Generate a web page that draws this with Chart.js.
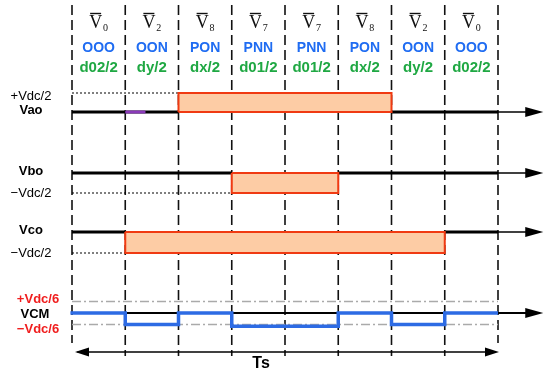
<!DOCTYPE html>
<html>
<head>
<meta charset="utf-8">
<script src="https://cdn.jsdelivr.net/npm/chart.js@4.4.1/dist/chart.umd.min.js"></script>
<style>
  html, body { margin: 0; padding: 0; background: #fff; }
  #wrap { width: 550px; height: 374px; }
</style>
</head>
<body>
<div id="wrap"><canvas id="pwmCanvas"></canvas></div>
<script>
// one switching period Ts, split in 8 sub-intervals
const vectorNo     = ['0', '2', '8', '7', '7', '8', '2', '0'];
const switchStates = ['OOO', 'OON', 'PON', 'PNN', 'PNN', 'PON', 'OON', 'OOO'];
const dwellTimes   = ['d02/2', 'dy/2', 'dx/2', 'd01/2', 'd01/2', 'dx/2', 'dy/2', 'd02/2'];

// phase voltages in units of Vdc/2, common mode in units of Vdc/6
const vaoLevel = [0, 0, 1, 1, 1, 1, 0, 0];
const vboLevel = [0, 0, 0, -1, -1, 0, 0, 0];
const vcoLevel = [0, -1, -1, -1, -1, -1, -1, 0];
const vcmLevel = [0, -1, 0, -1.15, -1.15, 0, -1, 0];
const vaoMark  = [1, 1.38];   // short purple stretch on Vao

const rowLabels = [
    { row: 'vao', main: 'Vao', ref: '+Vdc/2' },
    { row: 'vbo', main: 'Vbo', ref: '\u2212Vdc/2' },
    { row: 'vco', main: 'Vco', ref: '\u2212Vdc/2' }
];

// layout (pixels)
const X0 = 72, UNIT = 53.25;
const ROWS = {
    vao: { base: 112, amp: 19 },
    vbo: { base: 173, amp: 20 },
    vco: { base: 232, amp: 21 },
    vcm: { base: 313, amp: 11.5 }
};
const AXIS_END = 8.62, ARROW_TIP = 8.85, TS_Y = 352;
const SANS = '"Liberation Sans", Arial, sans-serif';
const SERIF = '"Liberation Serif", "Times New Roman", serif';

function yOf(row, level) { return ROWS[row].base - level * ROWS[row].amp; }

function line(points, opts) {
    return Object.assign({
        data: points, showLine: true, pointRadius: 0, fill: false,
        borderColor: '#000', borderWidth: 1.5, borderJoinStyle: 'miter',
        borderCapStyle: 'butt', order: 5
    }, opts);
}

// black baseline where level is 0, broken elsewhere
function zeroRuns(levels, row) {
    const pts = [];
    levels.forEach((l, i) => {
        if (l === 0) {
            pts.push({ x: i, y: yOf(row, 0) }, { x: i + 1, y: yOf(row, 0) });
        } else {
            pts.push({ x: i + 0.5, y: null });
        }
    });
    return pts;
}

// start/end/level of each non-zero run
function pulses(levels) {
    const out = [];
    let i = 0;
    while (i < levels.length) {
        if (levels[i] !== 0) {
            let j = i;
            while (j + 1 < levels.length && levels[j + 1] === levels[i]) j++;
            out.push({ from: i, to: j + 1, level: levels[i] });
            i = j + 1;
        } else i++;
    }
    return out;
}

function firstEdge(levels) { return levels.findIndex(l => l !== 0); }
function refLevel(levels) { return levels.find(l => l !== 0); }

const datasets = [];

// dashed sub-interval boundaries
for (let i = 0; i <= vectorNo.length; i++) {
    const inner = i > 0 && i < vectorNo.length;
    datasets.push(line([{ x: i, y: 5 }, { x: i, y: inner ? 356 : 343 }],
        { borderColor: '#111', borderWidth: 1.6, borderDash: [10, 5], order: 20 }));
}

// phase rows
[['vao', vaoLevel], ['vbo', vboLevel], ['vco', vcoLevel]].forEach(([row, lv]) => {
    const base = yOf(row, 0);
    datasets.push(line([{ x: 0, y: base }, { x: AXIS_END, y: base }], { borderWidth: 1.5, order: 15 }));
    const ref = yOf(row, refLevel(lv));
    datasets.push(line([{ x: 0, y: ref }, { x: firstEdge(lv), y: ref }],
        { borderWidth: 1, borderDash: [2, 2], order: 15 }));
    datasets.push(line(zeroRuns(lv, row), { borderWidth: 3, order: 10 }));
    pulses(lv).forEach(p => {
        const t = yOf(row, p.level);
        // filled body
        datasets.push(line([{ x: p.from, y: t }, { x: p.to, y: t }], {
            borderWidth: 0, borderColor: 'rgba(0,0,0,0)',
            backgroundColor: '#FDCCA5', fill: { value: base }, order: 9
        }));
        // red outline
        datasets.push(line([{ x: p.from, y: base }, { x: p.from, y: t }, { x: p.to, y: t },
                            { x: p.to, y: base }, { x: p.from, y: base }],
            { borderColor: '#F03A12', borderWidth: 2, order: 8 }));
    });
});

datasets.push(line(vaoMark.map(x => ({ x: x, y: yOf('vao', 0) })),
    { borderColor: '#8A3AB9', borderWidth: 3, order: 6 }));

// common mode row
datasets.push(line([{ x: 0, y: yOf('vcm', 1) }, { x: 8, y: yOf('vcm', 1) }],
    { borderColor: '#AAAAAA', borderWidth: 1.3, borderDash: [9, 3, 2, 3], order: 15 }));
datasets.push(line([{ x: 0, y: yOf('vcm', -1) }, { x: 8, y: yOf('vcm', -1) }],
    { borderColor: '#AAAAAA', borderWidth: 1.3, borderDash: [9, 3, 2, 3], order: 15 }));
datasets.push(line([{ x: 0, y: yOf('vcm', 0) }, { x: AXIS_END, y: yOf('vcm', 0) }],
    { borderWidth: 2, order: 12 }));
const vcmPts = [];
vcmLevel.forEach((l, i) => {
    vcmPts.push({ x: i, y: yOf('vcm', l) }, { x: i + 1, y: yOf('vcm', l) });
});
vcmPts[0].x = -0.03;
datasets.push(line(vcmPts, { borderColor: '#2D6BE4', borderWidth: 3.5, order: 4 }));

// Ts span
datasets.push(line([{ x: 0.1, y: TS_Y }, { x: 7.9, y: TS_Y }], { borderWidth: 1.5, order: 4 }));

function arrowHead(ctx, tipX, y, dir, len, half) {
    ctx.beginPath();
    ctx.moveTo(tipX, y);
    ctx.lineTo(tipX - dir * len, y - half);
    ctx.lineTo(tipX - dir * len, y + half);
    ctx.closePath();
    ctx.fillStyle = '#000';
    ctx.fill();
}

const annotations = {
    id: 'annotations',
    afterDatasetsDraw(chart) {
        const ctx = chart.ctx, xs = chart.scales.x;
        ctx.save();
        // arrows on time axes
        ['vao', 'vbo', 'vco', 'vcm'].forEach(r => {
            arrowHead(ctx, xs.getPixelForValue(ARROW_TIP), ROWS[r].base, 1, 18, 5);
        });
        arrowHead(ctx, xs.getPixelForValue(0) + 3, TS_Y, -1, 14, 4.5);
        arrowHead(ctx, xs.getPixelForValue(8) + 1, TS_Y, 1, 14, 4.5);

        // header rows
        ctx.textBaseline = 'alphabetic';
        ctx.textAlign = 'left';
        vectorNo.forEach((n, i) => {
            const cx = xs.getPixelForValue(i + 0.5);
            ctx.font = '18px ' + SERIF;
            const wV = ctx.measureText('V').width;
            ctx.font = '10px ' + SERIF;
            const wS = ctx.measureText(n).width;
            const sx = cx - (wV + wS + 1) / 2;
            ctx.fillStyle = '#111';
            ctx.font = '18px ' + SERIF;
            ctx.fillText('V', sx, 28);
            ctx.font = '10px ' + SERIF;
            ctx.fillText(n, sx + wV + 1, 31);
            ctx.strokeStyle = '#111';
            ctx.lineWidth = 1.4;
            ctx.beginPath();
            ctx.moveTo(sx + 1, 13.5);
            ctx.lineTo(sx + wV - 1, 13.5);
            ctx.stroke();
        });
        ctx.textAlign = 'center';
        ctx.textBaseline = 'middle';
        switchStates.forEach((s, i) => {
            ctx.font = 'bold 14px ' + SANS;
            ctx.fillStyle = '#1F6CF2';
            ctx.fillText(s, xs.getPixelForValue(i + 0.5), 48);
        });
        dwellTimes.forEach((s, i) => {
            ctx.font = 'bold 15px ' + SANS;
            ctx.fillStyle = '#1FA843';
            ctx.fillText(s, xs.getPixelForValue(i + 0.5), 68);
        });

        // row labels
        ctx.fillStyle = '#000';
        rowLabels.forEach(l => {
            const base = ROWS[l.row].base, amp = ROWS[l.row].amp;
            const up = l.ref.charAt(0) === '+';
            ctx.font = 'bold 13px ' + SANS;
            ctx.fillText(l.main, 31, base - 2);
            ctx.font = '13px ' + SANS;
            ctx.fillText(l.ref, 31, up ? base - amp + 3 : base + amp);
        });
        ctx.font = 'bold 13px ' + SANS;
        ctx.fillStyle = '#000';
        ctx.fillText('VCM', 35, ROWS.vcm.base + 1);
        ctx.fillStyle = '#F01E1E';
        ctx.fillText('+Vdc/6', 38, ROWS.vcm.base - 14);
        ctx.fillText('\u2212Vdc/6', 38, ROWS.vcm.base + 16);

        ctx.fillStyle = '#000';
        ctx.font = 'bold 16px ' + SANS;
        ctx.fillText('Ts', xs.getPixelForValue(3.55), 364);
        ctx.restore();
    }
};

new Chart(document.getElementById('pwmCanvas'), {
    type: 'scatter',
    data: { datasets: datasets },
    options: {
        responsive: true,
        maintainAspectRatio: false,
        animation: false,
        events: [],
        layout: { padding: 0 },
        plugins: { legend: { display: false }, tooltip: { enabled: false } },
        scales: {
            x: { type: 'linear', display: false, min: -X0 / UNIT, max: (550 - X0) / UNIT },
            y: { type: 'linear', display: false, min: 0, max: 374, reverse: true }
        }
    },
    plugins: [annotations]
});
</script>
</body>
</html>
